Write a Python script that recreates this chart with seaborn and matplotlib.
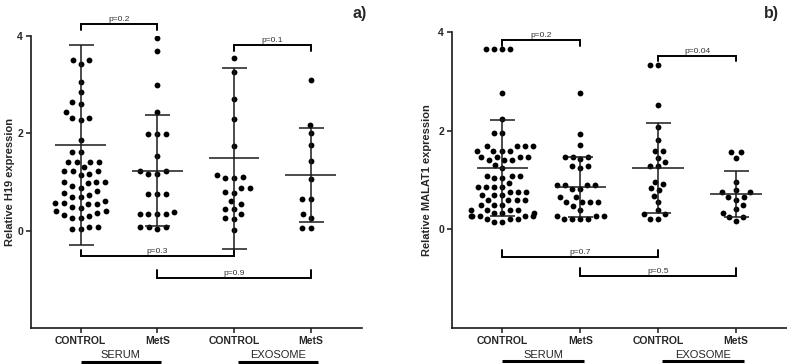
import warnings
import numpy as np
import pandas as pd
import matplotlib
matplotlib.use('Agg')
import matplotlib.pyplot as plt
import seaborn as sns

warnings.filterwarnings('ignore')

# groups (x order) and what the ticks say
groups = ['SERUM CONTROL', 'SERUM MetS', 'EXOSOME CONTROL', 'EXOSOME MetS']
tick_labels = ['CONTROL', 'MetS', 'CONTROL', 'MetS']
sample_labels = ['SERUM', 'EXOSOME']

# H19, read off panel a)
h19_serum_control = [3.50, 3.50, 3.43, 3.05, 2.85, 2.64, 2.61, 2.43, 2.31, 2.27, 2.31, 1.87,
                     1.61, 1.61, 1.42, 1.42, 1.42, 1.42, 1.31, 1.22, 1.17, 1.22, 1.22, 1.15,
                     1.00, 1.00, 1.00, 0.98, 0.92, 0.88, 0.82, 0.78, 0.74, 0.70, 0.70, 0.60,
                     0.57, 0.55, 0.57, 0.55, 0.46, 0.48, 0.40, 0.36, 0.40, 0.32, 0.30, 0.26,
                     0.26, 0.07, 0.03, 0.03, 0.07]
h19_serum_mets = [3.96, 3.69, 2.99, 2.43, 1.98, 1.98, 1.98, 1.53, 1.22, 1.22, 1.17, 1.17,
                  0.75, 0.75, 0.75, 0.34, 0.34, 0.34, 0.34, 0.39, 0.07, 0.07, 0.07, 0.03]
h19_exo_control = [3.55, 3.27, 2.70, 2.30, 1.75, 1.15, 1.08, 1.08, 1.10, 0.87, 0.77, 0.79,
                   0.87, 0.55, 0.60, 0.44, 0.45, 0.34, 0.24, 0.25, 0.02]
h19_exo_mets = [3.09, 2.18, 2.01, 1.77, 1.44, 1.07, 0.66, 0.66, 0.34, 0.27, 0.06, 0.06]
h19_mean = [1.76, 1.23, 1.49, 1.14]
h19_sd = [2.06, 1.14, 1.86, 0.96]
h19_pairs = [(0, 1), (2, 3), (0, 2), (1, 3)]
h19_p = ['p=0.2', 'p=0.1', 'p=0.3', 'p=0.9']

# MALAT1, read off panel b)
malat_serum_control = [3.66, 3.66, 3.66, 3.66, 2.77, 2.25, 1.95, 1.95, 1.70, 1.70, 1.70, 1.70,
                       1.60, 1.60, 1.60, 1.60, 1.47, 1.47, 1.47, 1.47, 1.40, 1.40, 1.40,
                       1.30, 1.25, 1.09, 1.09, 1.09, 1.05, 1.05, 0.95, 0.86, 0.86, 0.86, 0.86,
                       0.76, 0.76, 0.76, 0.70, 0.70, 0.70, 0.60, 0.60, 0.60, 0.60, 0.50,
                       0.50, 0.50, 0.40, 0.40, 0.40, 0.40, 0.33, 0.33, 0.33, 0.28, 0.28,
                       0.28, 0.28, 0.28, 0.22, 0.22, 0.22, 0.15, 0.15]
malat_serum_mets = [2.77, 1.93, 1.71, 1.48, 1.48, 1.48, 1.43, 1.29, 1.29, 1.25, 0.90, 0.90,
                    0.90, 0.90, 0.82, 0.82, 0.65, 0.65, 0.55, 0.55, 0.55, 0.55, 0.47, 0.40,
                    0.27, 0.27, 0.27, 0.22, 0.22, 0.22, 0.22]
malat_exo_control = [3.34, 3.34, 2.53, 2.07, 1.81, 1.59, 1.59, 1.45, 1.37, 1.29, 1.29, 0.97,
                     0.93, 0.84, 0.80, 0.68, 0.55, 0.39, 0.31, 0.31, 0.22, 0.22]
malat_exo_mets = [1.57, 1.57, 1.45, 0.97, 0.80, 0.75, 0.75, 0.65, 0.65, 0.60, 0.49, 0.42,
                  0.34, 0.26, 0.26, 0.17]
malat_mean = [1.25, 0.86, 1.25, 0.72]
malat_sd = [0.97, 0.61, 0.92, 0.46]
malat_pairs = [(0, 1), (2, 3), (0, 2), (1, 3)]
malat_p = ['p=0.2', 'p=0.04', 'p=0.7', 'p=0.5']

sns.set_style('ticks')
plt.rcParams['font.family'] = ['Liberation Sans', 'DejaVu Sans']
ink = '#1a1a1a'


def panel(ax, values, means, sds, pairs, ptexts, levels, ylabel, label_x, group_y, swarm_size):
    df = pd.DataFrame({'group': np.repeat(groups, [len(v) for v in values]),
                       'value': np.concatenate(values)})
    # swarm laid out with a roomy dot, drawn later with a smaller one (gaps like the original)
    sns.swarmplot(data=df, x='group', y='value', order=groups, color='black',
                  size=swarm_size, ax=ax, zorder=3)
    x = np.arange(len(groups))
    ax.hlines(means, x - 0.33, x + 0.33, color=ink, lw=1.1, zorder=4)
    ax.errorbar(x, means, yerr=sds, fmt='none', ecolor=ink, elinewidth=1.1,
                capsize=9, capthick=1.1, zorder=4)

    # significance brackets
    for (a, b), txt, (yb, tip) in zip(pairs, ptexts, levels):
        ax.plot([a, a, b, b], [yb + tip, yb, yb, yb + tip], color='black',
                lw=1.4, clip_on=False, solid_joinstyle='miter')
        ax.text((a + b) / 2, yb + 0.02, txt, ha='center', va='bottom', fontsize=6,
                color='#333333', clip_on=False)

    ax.set_xlim(-0.65, 3.67)
    ax.set_ylim(-2, 4)
    ax.set_yticks([0, 2, 4])
    ax.set_xticks(x)
    ax.set_xticklabels(tick_labels, fontweight='bold', fontsize=7.5)
    ax.set_yticklabels(['0', '2', '4'], fontweight='bold', fontsize=7.5)
    ax.set_xlabel('')
    ax.set_ylabel(ylabel, fontweight='bold', fontsize=8)
    ax.yaxis.set_label_coords(label_x, 0.5)
    ax.tick_params(direction='out', length=3.5, width=1.1, color=ink, pad=2)
    sns.despine(ax=ax)
    for s in ['left', 'bottom']:
        ax.spines[s].set_linewidth(1.2)
        ax.spines[s].set_color(ink)

    # SERUM / EXOSOME underlines
    tr = ax.get_xaxis_transform()
    for name, (x0, x1) in zip(sample_labels, [(0.0, 1.05), (2.05, 3.1)]):
        ax.text((x0 + x1) / 2, group_y[0], name, transform=tr, ha='center',
                va='center', fontsize=8, clip_on=False)
        ax.plot([x0, x1], [group_y[1], group_y[1]], transform=tr, color='black',
                lw=2.2, clip_on=False, solid_capstyle='butt')


fig = plt.figure(figsize=(7.87, 3.64), dpi=100)
ax1 = fig.add_axes([0.039, 0.099, 0.421, 0.802])
ax2 = fig.add_axes([0.574, 0.099, 0.4275, 0.812])

panel(ax1, [h19_serum_control, h19_serum_mets, h19_exo_control, h19_exo_mets],
      h19_mean, h19_sd, h19_pairs, h19_p,
      [(4.25, -0.12), (3.82, -0.12), (-0.53, 0.14), (-0.97, 0.16)],
      'Relative H19 expression', -0.047, (-0.093, -0.117), 6.0)
panel(ax2, [malat_serum_control, malat_serum_mets, malat_exo_control, malat_exo_mets],
      malat_mean, malat_sd, malat_pairs, malat_p,
      [(3.84, -0.12), (3.53, -0.12), (-0.55, 0.14), (-0.95, 0.16)],
      'Relative MALAT1 expression', -0.059, (-0.0915, -0.112), 5.5)

fig.text(0.457, 0.962, 'a)', fontsize=11.5, fontweight='bold', ha='center', va='center')
fig.text(0.980, 0.962, 'b)', fontsize=11.5, fontweight='bold', ha='center', va='center')

# run the swarm layout once, then freeze it and shrink the dots
fig.canvas.draw()
for ax in (ax1, ax2):
    for coll in ax.collections:
        if 'draw' in coll.__dict__:
            del coll.draw
            coll.set_sizes([4.2 ** 2])

fig.savefig('out.png', dpi=100)
